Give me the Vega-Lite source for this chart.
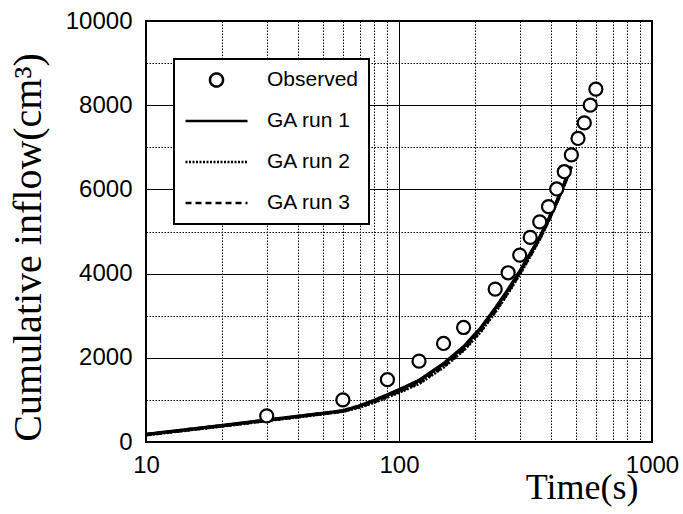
{
  "$schema": "https://vega.github.io/schema/vega-lite/v6.json",
  "width": 506,
  "height": 421,
  "autosize": {"type": "none"},
  "padding": {"left": 146, "top": 21, "right": 31, "bottom": 72},
  "background": "white",
  "config": {
    "view": {"stroke": "black", "strokeWidth": 2},
    "axis": {
      "domain": false,
      "ticks": false,
      "labelFont": "Liberation Sans",
      "labelFontSize": 24,
      "labelColor": "black",
      "labelFlush": false,
      "labelOverlap": false,
      "titleFont": "Liberation Serif",
      "titleFontWeight": "normal",
      "titleColor": "black",
      "gridColor": "black",
      "gridOpacity": 1,
      "gridWidth": 1
    }
  },
  "data": {
    "values": [
      {"t": 30, "v": 620, "series": "Observed"},
      {"t": 60, "v": 1000, "series": "Observed"},
      {"t": 90, "v": 1480, "series": "Observed"},
      {"t": 120, "v": 1920, "series": "Observed"},
      {"t": 150, "v": 2340, "series": "Observed"},
      {"t": 180, "v": 2720, "series": "Observed"},
      {"t": 240, "v": 3630, "series": "Observed"},
      {"t": 270, "v": 4020, "series": "Observed"},
      {"t": 300, "v": 4440, "series": "Observed"},
      {"t": 330, "v": 4860, "series": "Observed"},
      {"t": 360, "v": 5230, "series": "Observed"},
      {"t": 390, "v": 5590, "series": "Observed"},
      {"t": 420, "v": 6010, "series": "Observed"},
      {"t": 450, "v": 6420, "series": "Observed"},
      {"t": 480, "v": 6820, "series": "Observed"},
      {"t": 510, "v": 7210, "series": "Observed"},
      {"t": 540, "v": 7580, "series": "Observed"},
      {"t": 570, "v": 8000, "series": "Observed"},
      {"t": 600, "v": 8380, "series": "Observed"},

      {"t": 10, "v": 180, "series": "GA run 1"},
      {"t": 20, "v": 390, "series": "GA run 1"},
      {"t": 30, "v": 520, "series": "GA run 1"},
      {"t": 40, "v": 610, "series": "GA run 1"},
      {"t": 50, "v": 680, "series": "GA run 1"},
      {"t": 60, "v": 740, "series": "GA run 1"},
      {"t": 70, "v": 860, "series": "GA run 1"},
      {"t": 80, "v": 990, "series": "GA run 1"},
      {"t": 90, "v": 1120, "series": "GA run 1"},
      {"t": 100, "v": 1240, "series": "GA run 1"},
      {"t": 120, "v": 1460, "series": "GA run 1"},
      {"t": 150, "v": 1860, "series": "GA run 1"},
      {"t": 180, "v": 2260, "series": "GA run 1"},
      {"t": 210, "v": 2700, "series": "GA run 1"},
      {"t": 240, "v": 3170, "series": "GA run 1"},
      {"t": 270, "v": 3620, "series": "GA run 1"},
      {"t": 300, "v": 4050, "series": "GA run 1"},
      {"t": 330, "v": 4470, "series": "GA run 1"},
      {"t": 360, "v": 4860, "series": "GA run 1"},
      {"t": 390, "v": 5280, "series": "GA run 1"},
      {"t": 420, "v": 5700, "series": "GA run 1"},
      {"t": 450, "v": 6130, "series": "GA run 1"},
      {"t": 480, "v": 6550, "series": "GA run 1"},

      {"t": 10, "v": 170, "series": "GA run 2"},
      {"t": 20, "v": 380, "series": "GA run 2"},
      {"t": 30, "v": 510, "series": "GA run 2"},
      {"t": 40, "v": 600, "series": "GA run 2"},
      {"t": 50, "v": 670, "series": "GA run 2"},
      {"t": 60, "v": 730, "series": "GA run 2"},
      {"t": 70, "v": 830, "series": "GA run 2"},
      {"t": 80, "v": 950, "series": "GA run 2"},
      {"t": 90, "v": 1070, "series": "GA run 2"},
      {"t": 100, "v": 1180, "series": "GA run 2"},
      {"t": 120, "v": 1390, "series": "GA run 2"},
      {"t": 150, "v": 1780, "series": "GA run 2"},
      {"t": 180, "v": 2180, "series": "GA run 2"},
      {"t": 210, "v": 2620, "series": "GA run 2"},
      {"t": 240, "v": 3090, "series": "GA run 2"},
      {"t": 270, "v": 3550, "series": "GA run 2"},
      {"t": 300, "v": 3990, "series": "GA run 2"},
      {"t": 330, "v": 4420, "series": "GA run 2"},
      {"t": 360, "v": 4830, "series": "GA run 2"},
      {"t": 390, "v": 5260, "series": "GA run 2"},
      {"t": 420, "v": 5690, "series": "GA run 2"},
      {"t": 450, "v": 6120, "series": "GA run 2"},
      {"t": 480, "v": 6550, "series": "GA run 2"},

      {"t": 10, "v": 175, "series": "GA run 3"},
      {"t": 20, "v": 385, "series": "GA run 3"},
      {"t": 30, "v": 515, "series": "GA run 3"},
      {"t": 40, "v": 605, "series": "GA run 3"},
      {"t": 50, "v": 675, "series": "GA run 3"},
      {"t": 60, "v": 735, "series": "GA run 3"},
      {"t": 70, "v": 840, "series": "GA run 3"},
      {"t": 80, "v": 960, "series": "GA run 3"},
      {"t": 90, "v": 1085, "series": "GA run 3"},
      {"t": 100, "v": 1200, "series": "GA run 3"},
      {"t": 120, "v": 1410, "series": "GA run 3"},
      {"t": 150, "v": 1800, "series": "GA run 3"},
      {"t": 180, "v": 2200, "series": "GA run 3"},
      {"t": 210, "v": 2640, "series": "GA run 3"},
      {"t": 240, "v": 3110, "series": "GA run 3"},
      {"t": 270, "v": 3570, "series": "GA run 3"},
      {"t": 300, "v": 4010, "series": "GA run 3"},
      {"t": 330, "v": 4440, "series": "GA run 3"},
      {"t": 360, "v": 4840, "series": "GA run 3"},
      {"t": 390, "v": 5270, "series": "GA run 3"},
      {"t": 420, "v": 5690, "series": "GA run 3"},
      {"t": 450, "v": 6120, "series": "GA run 3"},
      {"t": 480, "v": 6550, "series": "GA run 3"}
    ]
  },
  "encoding": {
    "x": {
      "field": "t",
      "type": "quantitative",
      "scale": {"type": "log", "domain": [10, 1000], "nice": false},
      "axis": {
        "values": [10, 20, 30, 40, 50, 60, 70, 80, 90, 100, 200, 300, 400, 500, 600, 700, 800, 900, 1000],
        "format": "d",
        "labelExpr": "(datum.value == 10 || datum.value == 100 || datum.value == 1000) ? datum.label : ''",
        "labelBaseline": "top",
        "labelPadding": 11,
        "labelAlign": "center",
        "gridDash": {"condition": {"test": "datum.value == 100 || datum.value == 10 || datum.value == 1000", "value": []}, "value": [1.5, 1.5]},
        "title": "Time(s)",
        "titleFontSize": 36,
        "titleAlign": "right",
        "titleAnchor": null,
        "titleBaseline": "alphabetic",
        "titleX": 492,
        "titleY": 56
      }
    },
    "y": {
      "field": "v",
      "type": "quantitative",
      "scale": {"domain": [0, 10000], "nice": false},
      "axis": {
        "values": [0, 1000, 2000, 3000, 4000, 5000, 6000, 7000, 8000, 9000, 10000],
        "format": "d",
        "labelExpr": "datum.value % 2000 == 0 ? datum.label : ''",
        "labelPadding": 14,
        "labelBaseline": "middle",
        "gridDash": {"condition": {"test": "datum.value % 2000 == 0", "value": []}, "value": [1.5, 1.5]},
        "title": "Cumulative inflow(cm³)",
        "titleFontSize": 40,
        "titleAngle": -90,
        "titleAlign": "center",
        "titleAnchor": null,
        "titleBaseline": "alphabetic",
        "titleX": -106,
        "titleY": 226
      }
    }
  },
  "layer": [
    {
      "transform": [{"filter": "datum.series != 'Observed'"}],
      "mark": {"type": "line", "color": "black", "strokeWidth": 3.5},
      "encoding": {
        "strokeDash": {
          "field": "series",
          "type": "nominal",
          "scale": {
            "domain": ["Observed", "GA run 1", "GA run 2", "GA run 3"],
            "range": [[1, 0], [1, 0], [2, 1.5], [6, 4]]
          },
          "legend": {
            "title": null,
            "orient": "none",
            "legendX": 28,
            "legendY": 38,
            "padding": 10,
            "fillColor": "white",
            "strokeColor": "black",
            "symbolSize": 3844,
            "symbolStrokeWidth": 2.5,
            "symbolStrokeColor": "black",
            "symbolFillColor": "white",
            "labelFont": "Liberation Sans",
            "labelFontSize": 21,
            "labelColor": "black",
            "labelOffset": 18,
            "labelLimit": 300,
            "clipHeight": 22,
            "rowPadding": 19,
            "encode": {
              "legend": {"update": {"strokeWidth": {"value": 2}}},
              "symbols": {
                "update": {
                  "shape": {"signal": "datum.value === 'Observed' ? 'circle' : 'stroke'"},
                  "size": {"signal": "datum.value === 'Observed' ? 170 : 3844"},
                  "fill": {"value": "white"},
                  "stroke": {"value": "black"}
                }
              }
            }
          }
        }
      }
    },
    {
      "transform": [{"filter": "datum.series == 'Observed'"}],
      "mark": {"type": "point", "shape": "circle", "filled": true, "fill": "white", "stroke": "black", "strokeWidth": 2.2, "size": 170, "opacity": 1}
    }
  ]
}
